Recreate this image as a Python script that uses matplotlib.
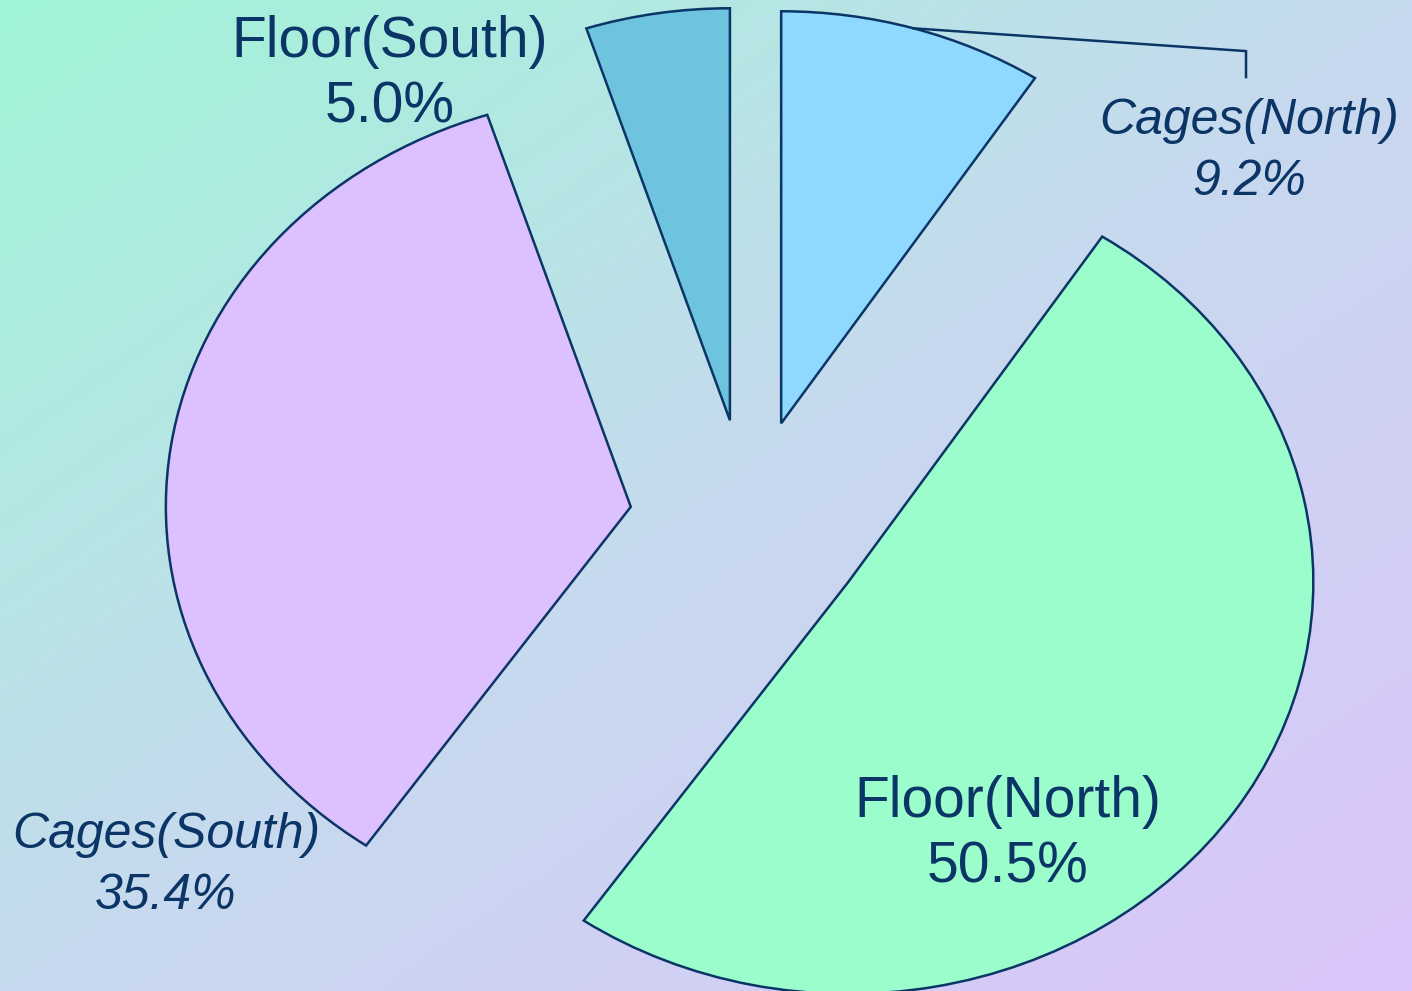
import matplotlib.pyplot as plt
import numpy as np
from matplotlib.colors import LinearSegmentedColormap

# data
labels = ['Cages(North)', 'Floor(North)', 'Cages(South)', 'Floor(South)']
shares = [9.2, 50.5, 35.4, 5.0]
colors = ['#8fd9fe', '#9bfdcc', '#dcc1fe', '#6ec4de']
italic = [True, False, True, False]
explode = [0.25, 0.26, 0.255, 0.25]

navy = '#0b3566'

fig = plt.figure(figsize=(14.12, 9.91), dpi=100)

# diagonal background gradient, mint -> lavender
bg = fig.add_axes([0, 0, 1, 1], zorder=0)
gx, gy = np.meshgrid(np.linspace(0, 1, 400), np.linspace(0, 1, 300))
cmap = LinearSegmentedColormap.from_list('bg', ['#a0f5d8', '#c6daee', '#dcc4fb'])
bg.imshow((gx + gy) / 2, cmap=cmap, aspect='auto')
bg.axis('off')

ax = fig.add_axes([0, 0, 1, 1], zorder=1)
ax.set_facecolor('none')
wedges, _ = ax.pie(shares, colors=colors, explode=explode, startangle=90,
                   counterclock=False,
                   wedgeprops=dict(edgecolor=navy, linewidth=1.8))
ax.set_aspect('auto')
ax.set_xlim(-1.609, 1.428)
ax.set_ylim(-1.138, 1.267)

# label placement (data coords)
label_pos = [(1.078, 0.900), (0.559, -0.758), (-1.252, -0.833), (-0.771, 1.086)]
for lab, val, it, (x, y) in zip(labels, shares, italic, label_pos):
    if it:
        ax.text(x, y, f'{lab}\n{val:.1f}%', ha='center', va='center',
                fontsize=36, style='italic', color=navy,
                family=['Liberation Sans'], linespacing=1.42)
    else:
        ax.text(x, y, f'{lab}\n{val:.1f}%', ha='center', va='center',
                fontsize=41, color=navy, family=['Liberation Sans'],
                linespacing=1.27)

# leader line for Cages(North)
w = wedges[0]
mid = np.deg2rad((w.theta1 + w.theta2) / 2)
sx = w.center[0] + w.r * np.cos(mid)
sy = w.center[1] + w.r * np.sin(mid)
ax.plot([sx, 1.071, 1.071], [sy, 1.143, 1.080], color=navy, lw=1.8,
        solid_joinstyle='miter')

fig.savefig('out.png', dpi=100)
